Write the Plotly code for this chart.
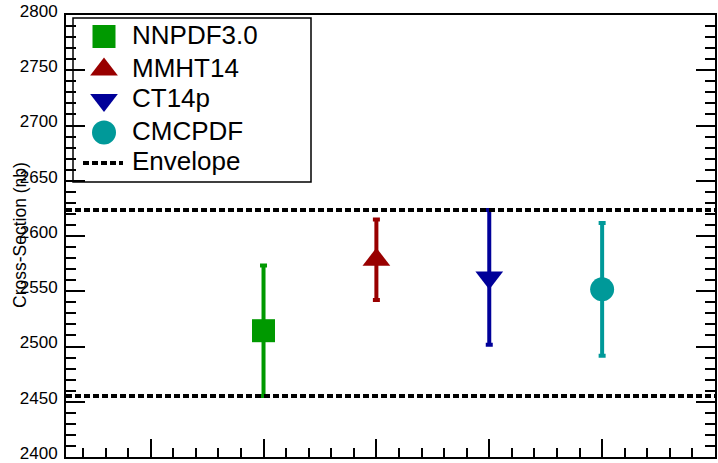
import plotly.graph_objects as go

# Cross-section predictions for each PDF set (nb) with their uncertainties
pdf_sets = ["NNPDF3.0", "MMHT14", "CT14p", "CMCPDF"]
positions = [1, 2, 3, 4]
xsec = [2514.3, 2578.5, 2562.5, 2551.7]
xsec_err = [59.0, 36.5, 61.0, 60.0]

# Envelope spanning all predictions with their uncertainties
env_high = max(c + e for c, e in zip(xsec, xsec_err))
env_low = min(c - e for c, e in zip(xsec, xsec_err))

# Styles per PDF set
colors = ["#009900", "#990000", "#000099", "#009999"]
symbols = ["square", "triangle-up", "triangle-down", "circle"]
sizes = [23, 24, 24, 24]

FONT = "Liberation Sans, Arial, Helvetica, sans-serif"
W, H = 718, 463
L, R, T, B = 66, 3, 15, 6  # plot-area margins in px

fig = go.Figure()

for name, x, y, e, c, s, sz in zip(pdf_sets, positions, xsec, xsec_err, colors, symbols, sizes):
    fig.add_trace(go.Scatter(
        x=[x], y=[y], mode="markers", name=name, showlegend=False,
        marker=dict(symbol=s, size=sz, color=c, line=dict(width=0)),
        error_y=dict(type="data", array=[e], color=c, thickness=4, width=3.5),
        cliponaxis=False,
    ))

# Envelope lines
for yv in (env_high, env_low):
    fig.add_shape(type="line", xref="paper", yref="y", x0=0, x1=1, y0=yv, y1=yv,
                  line=dict(color="black", width=4, dash="6px,3px"))

# Legend drawn on a pixel-coordinate overlay axis
px_x = [L, W - R]
px_y = [H - B, T]
leg_box = dict(x0=73, x1=311, y0=18, y1=182)
leg_sym_x = 104
leg_text_x = 130
leg_rows = [36.5, 69.5, 100, 132.5]
leg_env_row = 163

for name, c, s, sz, ry in zip(pdf_sets, colors, symbols, sizes, leg_rows):
    fig.add_trace(go.Scatter(
        x=[leg_sym_x], y=[ry], xaxis="x2", yaxis="y2", mode="markers",
        showlegend=False, hoverinfo="skip", cliponaxis=False,
        marker=dict(symbol=s, size=sz, color=c, line=dict(width=0)),
    ))
    fig.add_annotation(x=leg_text_x, y=ry - 2, xref="x2", yref="y2", text=name,
                       showarrow=False, xanchor="left", yanchor="middle",
                       font=dict(family=FONT, size=26, color="black"))

fig.add_shape(type="rect", xref="x2", yref="y2", line=dict(color="black", width=1.5),
              fillcolor="white", layer="below", **leg_box)
fig.add_shape(type="line", xref="x2", yref="y2", x0=83, x1=123, y0=leg_env_row, y1=leg_env_row,
              line=dict(color="black", width=4, dash="6px,3px"))
fig.add_annotation(x=leg_text_x, y=leg_env_row - 2, xref="x2", yref="y2", text="Envelope",
                   showarrow=False, xanchor="left", yanchor="middle",
                   font=dict(family=FONT, size=26, color="black"))

# Y-axis title, placed over the tick labels
fig.add_annotation(x=(20 - L) / (W - L - R), y=(H - B - 235) / (H - T - B),
                   xref="paper", yref="paper", text="Cross-Section (nb)",
                   showarrow=False, textangle=-90, xanchor="center", yanchor="middle",
                   font=dict(family=FONT, size=17.5, color="black"))

fig.update_layout(
    width=W, height=H,
    margin=dict(l=L, r=R, t=T, b=B, pad=0),
    paper_bgcolor="white", plot_bgcolor="white",
    showlegend=False,
    font=dict(family=FONT, size=17, color="black"),
    xaxis=dict(
        range=[-0.75, 5], tick0=0, dtick=1, ticks="inside", ticklen=18, tickwidth=1.5,
        tickcolor="black", showticklabels=False, showgrid=False, zeroline=False,
        showline=True, linecolor="black", linewidth=2, mirror=True, automargin=False,
        minor=dict(ticks="inside", dtick=0.2, tick0=0, ticklen=9, tickwidth=1.5,
                   tickcolor="black", showgrid=False),
    ),
    yaxis=dict(
        range=[2400, 2800], tick0=2400, dtick=50, ticks="inside", ticklen=19, tickwidth=1.5,
        tickcolor="black", showgrid=False, zeroline=False, automargin=False,
        showline=True, linecolor="black", linewidth=2, mirror="ticks",
        tickfont=dict(family=FONT, size=17, color="black"), ticklabelstandoff=3,
        ticklabeloverflow="allow", ticklabelshift=-4,
        minor=dict(ticks="inside", dtick=10, tick0=2400, ticklen=10, tickwidth=1.5,
                   tickcolor="black", showgrid=False),
    ),
    xaxis2=dict(range=px_x, overlaying="x", anchor="y2", visible=False, fixedrange=True),
    yaxis2=dict(range=px_y, overlaying="y", anchor="x2", visible=False, fixedrange=True),
)

fig.write_html("out.html")
